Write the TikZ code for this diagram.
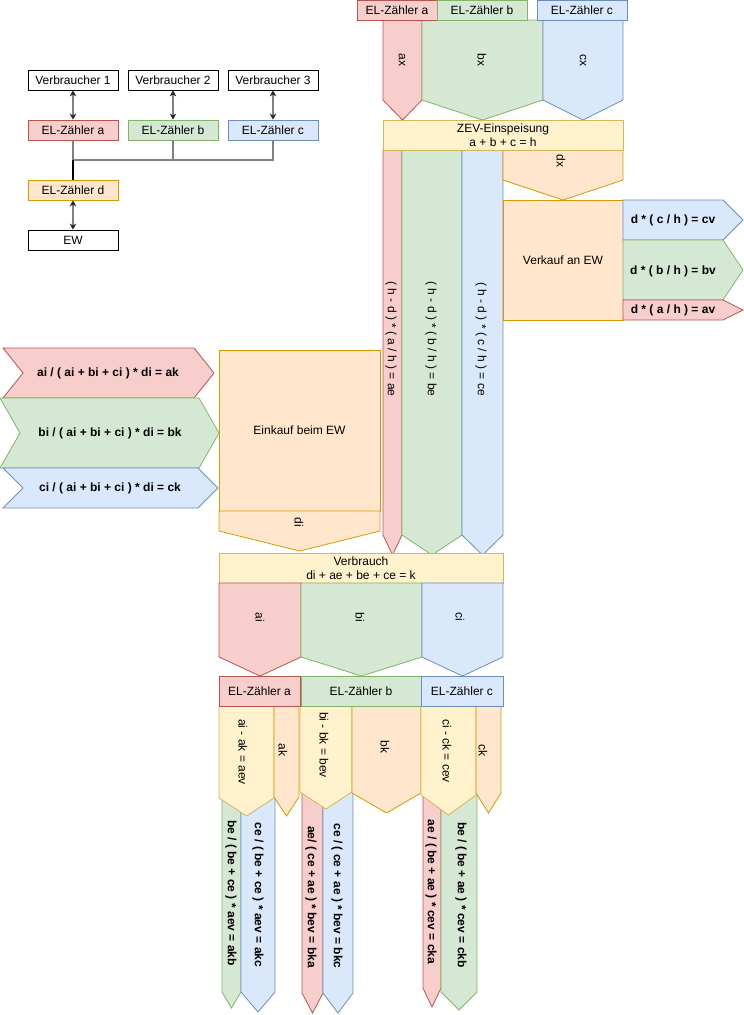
\documentclass[tikz,border=0pt]{standalone}
\usepackage{fontspec}
\setmainfont{Liberation Sans}
\usetikzlibrary{arrows.meta}

\definecolor{rotfill}{HTML}{F8CECC}
\definecolor{rotline}{HTML}{B85450}
\definecolor{gruenfill}{HTML}{D5E8D4}
\definecolor{gruenline}{HTML}{82B366}
\definecolor{blaufill}{HTML}{DAE8FC}
\definecolor{blauline}{HTML}{6C8EBF}
\definecolor{orangefill}{HTML}{FFE6CC}
\definecolor{orangeline}{HTML}{D79B00}
\definecolor{gelbfill}{HTML}{FFF2CC}
\definecolor{gelbline}{HTML}{D6B656}

\begin{document}
\begin{tikzpicture}[x=1pt,y=-1pt]

% Define styles
\tikzset{
    box/.style={draw, line width=0.8pt, minimum width=90pt, minimum height=20pt, inner sep=0pt, font=\fontsize{12}{14}\selectfont},
    rotform/.style={fill=rotfill, draw=rotline, line width=0.8pt},
    gruenform/.style={fill=gruenfill, draw=gruenline, line width=0.8pt},
    blauform/.style={fill=blaufill, draw=blauline, line width=0.8pt},
    orangeform/.style={fill=orangefill, draw=orangeline, line width=0.8pt},
    gelbform/.style={fill=gelbfill, draw=gelbline, line width=0.8pt},
    txt/.style={inner sep=0pt, align=center, font=\fontsize{12}{14}\selectfont},
    rottxt/.style={txt, rotate=-90},
    fetttxt/.style={txt, font=\fontsize{12}{14}\selectfont\bfseries},
    rotfetttxt/.style={fetttxt, rotate=-90},
    pfeil/.style={{Stealth[length=6pt,width=6.5pt,color=black!85]}-{Stealth[length=6pt,width=6.5pt,color=black!85]}, line width=1.2pt, black!50},
    leitung/.style={line width=1.2pt, black!50}
}

% zeige den Teil, der durch die Graphik benutzt wird
\useasboundingbox (0,0) rectangle (744,1015);


%%%%% Uebersicht oben links
\node[box] (verb1) at (73,80) {Verbraucher 1};
\node[box] (verb2) at (173,80) {Verbraucher 2};
\node[box] (verb3) at (273,80) {Verbraucher 3};

\node[box, fill=rotfill, draw=rotline] (zaehlerA) at (73,130) {EL-Zähler a};
\node[box, fill=gruenfill, draw=gruenline] (zaehlerB) at (173,130) {EL-Zähler b};
\node[box, fill=blaufill, draw=blauline] (zaehlerC) at (273,130) {EL-Zähler c};

\node[box, fill=orangefill, draw=orangeline] (zaehlerD) at (73,190) {EL-Zähler d};
\node[box] (ew) at (73,240) {EW};

\coordinate (knoten) at (73,160);

\draw[pfeil] (verb1) -- (zaehlerA);
\draw[pfeil] (verb2) -- (zaehlerB);
\draw[pfeil] (verb3) -- (zaehlerC);
\draw[pfeil] (zaehlerD) -- (ew);

\draw[leitung] (zaehlerA) -- (knoten);
\draw[leitung] (zaehlerB) |- (knoten);
\draw[leitung] (zaehlerC) |- (knoten);
\draw[line width=1.2pt] (knoten) -- (zaehlerD);


%%%%% Einspeisung oben rechts
\draw[rotform] (383,20) -- (422,20) -- (422,100) -- (402.5,120) -- (383,100) -- cycle;
\draw[gruenform] (422,20) -- (543,20) -- (543,100) -- (482.5,120) -- (422,100) -- cycle;
\draw[blauform] (543,20) -- (623,20) -- (623,100) -- (583,120) -- (543,100) -- cycle;
\node[rottxt] (ax) at (402,60) {ax};
\node[rottxt] (bx) at (482,60) {bx};
\node[rottxt] (cx) at (583,60) {cx};

\node[box, minimum width=80pt, fill=rotfill, draw=rotline] (obenA) at (397,10) {EL-Zähler a};
\node[box, fill=gruenfill, draw=gruenline] (obenB) at (482,10) {EL-Zähler b};
\node[box, fill=blaufill, draw=blauline] (obenC) at (582,10) {EL-Zähler c};

% Streifen nach unten
\draw[rotform] (383,150) -- (402,150) -- (402,535) -- (392.5,555) -- (383,535) -- cycle;
\draw[gruenform] (402,150) -- (462,150) -- (462,535) -- (432,555) -- (402,535) -- cycle;
\draw[blauform] (462,150) -- (503,150) -- (503,535) -- (482.5,555) -- (462,535) -- cycle;
\node[rottxt] (ae) at (391,339) {( h - d ) * ( a / h ) = ae};
\node[rottxt] (be) at (431,339) {( h - d ) * ( b / h ) = be};
\node[rottxt] (ce) at (481,339) {( h - d ) * ( c / h ) = ce};

\draw[orangeform] (503,150) -- (623,150) -- (623,180) -- (563,200) -- (503,180) -- cycle;
\node[rottxt] (dx) at (561,161) {dx};

\node[box, minimum width=240pt, minimum height=30pt, fill=gelbfill, draw=gelbline, align=center] (zev) at (503,135) {ZEV-Einspeisung\\a + b + c = h};


%%%%% Verkauf an EW
\node[box, minimum width=120pt, minimum height=120pt, fill=orangefill, draw=orangeline] (verkauf) at (563,260) {Verkauf an EW};

\draw[blauform] (623,200) -- (723,200) -- (743,220) -- (723,240) -- (623,240) -- cycle;
\draw[gruenform] (623,240) -- (723,240) -- (743,270) -- (723,300) -- (623,300) -- cycle;
\draw[rotform] (623,300) -- (723,300) -- (743,310) -- (723,320) -- (623,320) -- cycle;
\node[fetttxt] (cv) at (673,220) {d * ( c / h ) = cv};
\node[fetttxt] (bv) at (673,271) {d * ( b / h ) = bv};
\node[fetttxt] (av) at (673,310) {d * ( a / h ) = av};


%%%%% Einkauf beim EW
\draw[rotform] (3,348) -- (194,348) -- (214,373) -- (194,398) -- (3,398) -- (23,373) -- cycle;
\draw[gruenform] (0,398) -- (199,398) -- (219,433) -- (199,468) -- (0,468) -- (20,433) -- cycle;
\draw[blauform] (3,468) -- (198,468) -- (218,488) -- (198,508) -- (3,508) -- (23,488) -- cycle;
\node[fetttxt] (ak) at (108,373) {ai / ( ai + bi + ci ) * di = ak};
\node[fetttxt] (bk) at (110,433) {bi / ( ai + bi + ci ) * di = bk};
\node[fetttxt] (ck) at (110,488) {ci / ( ai + bi + ci ) * di = ck};

\node[box, minimum width=161pt, minimum height=161pt, fill=orangefill, draw=orangeline] (einkauf) at (299.5,430.5) {Einkauf beim EW};
\draw[orangeform] (219,511) -- (380,511) -- (380,531) -- (299.5,551) -- (219,531) -- cycle;
\node[rottxt] (di) at (299,522) {di};


%%%%% Verbrauch
\node[box, minimum width=284pt, minimum height=30pt, fill=gelbfill, draw=gelbline, align=center] (verbrauch) at (361,568) {Verbrauch\\di + ae + be + ce = k};

\draw[rotform] (219,583) -- (301,583) -- (301,657) -- (260,676) -- (219,657) -- cycle;
\draw[gruenform] (301,583) -- (422,583) -- (422,657) -- (361.5,676) -- (301,657) -- cycle;
\draw[blauform] (422,583) -- (503,583) -- (503,657) -- (462.5,676) -- (422,657) -- cycle;
\node[rottxt] (ai) at (260,617) {ai};
\node[rottxt] (bi) at (360,617) {bi};
\node[rottxt] (ci) at (460,617) {ci};


%%%%% Aufteilung unten
% schmale Streifen
\draw[gruenform] (222,706) -- (241,706) -- (241,992) -- (231.5,1008) -- (222,992) -- cycle;
\draw[blauform] (241,706) -- (275,706) -- (275,992) -- (258,1012) -- (241,992) -- cycle;
\draw[rotform] (302,706) -- (323,706) -- (323,993) -- (312.5,1013) -- (302,993) -- cycle;
\draw[blauform] (323,706) -- (353,706) -- (353,993) -- (338,1013) -- (323,993) -- cycle;
\draw[rotform] (423,706) -- (441,706) -- (441,988) -- (432,1007) -- (423,988) -- cycle;
\draw[gruenform] (441,706) -- (477,706) -- (477,992) -- (459,1010) -- (441,992) -- cycle;

\node[rotfetttxt] (akb) at (231,893) {be / ( be + ce ) * aev = akb};
\node[rotfetttxt] (akc) at (258,895) {ce / ( be + ce ) * aev = akc};
\node[rotfetttxt] (bka) at (311,897) {ae/ ( ce + ae ) * bev = bka};
\node[rotfetttxt] (bkc) at (337,896) {ce / ( ce + ae ) * bev = bkc};
\node[rotfetttxt] (cka) at (431,892) {ae / ( be + ae ) * cev = cka};
\node[rotfetttxt] (ckb) at (461,895) {be / ( be + ae ) * cev = ckb};

% Eigenverbrauch und Einkauf je Zaehler
\draw[gelbform] (219,706) -- (274,706) -- (274,798) -- (246.5,816) -- (219,798) -- cycle;
\draw[orangeform] (274,706) -- (299,706) -- (299,797) -- (286.5,816) -- (274,797) -- cycle;
\draw[gelbform] (300,706) -- (352,706) -- (352,792) -- (326,809) -- (300,792) -- cycle;
\draw[orangeform] (352,706) -- (421,706) -- (421,793) -- (386.5,813) -- (352,793) -- cycle;
\draw[gelbform] (421,706) -- (476,706) -- (476,795) -- (448.5,815) -- (421,795) -- cycle;
\draw[orangeform] (476,706) -- (501,706) -- (501,793) -- (488.5,813) -- (476,793) -- cycle;

\node[rottxt] (aev) at (243,752) {ai - ak = aev};
\node[rottxt] (akUnten) at (283,750) {ak};
\node[rottxt] (bev) at (324,745) {bi - bk = bev};
\node[rottxt] (bkUnten) at (385,747) {bk};
\node[rottxt] (cev) at (447,751) {ci - ck = cev};
\node[rottxt] (ckUnten) at (483,750) {ck};

\node[box, minimum width=81pt, minimum height=30pt, fill=rotfill, draw=rotline] (untenA) at (259.5,691) {EL-Zähler a};
\node[box, minimum width=120pt, minimum height=30pt, fill=gruenfill, draw=gruenline] (untenB) at (361,691) {EL-Zähler b};
\node[box, minimum width=82pt, minimum height=30pt, fill=blaufill, draw=blauline] (untenC) at (462,691) {EL-Zähler c};

\end{tikzpicture}
\end{document}
